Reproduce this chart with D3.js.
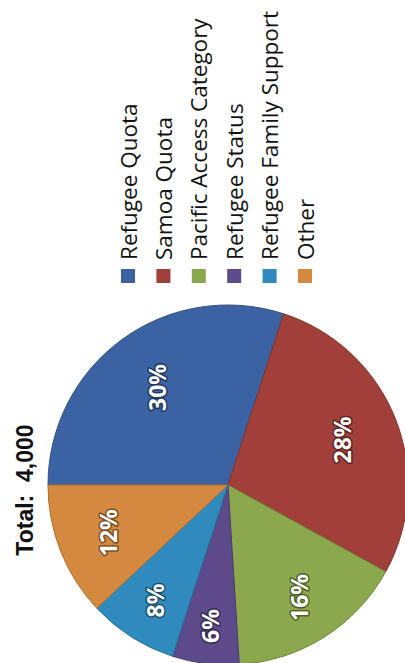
<!DOCTYPE html>
<html>
<head>
<meta charset="utf-8">
<script src="https://cdn.jsdelivr.net/npm/d3@7/dist/d3.min.js"></script>
<style>
  html, body { margin: 0; padding: 0; background: #fff; }
  svg { display: block; }
</style>
</head>
<body>
<svg id="chart" width="405" height="663"></svg>
<script>
// Residence approvals by category, share of a total of 4,000
const categories = ["Refugee Quota", "Samoa Quota", "Pacific Access Category", "Refugee Status", "Refugee Family Support", "Other"];
const shares = [30, 28, 16, 6, 8, 12];
const colors = ["#3b63a3", "#a1403a", "#8ba84c", "#5c4a8a", "#2f8bbd", "#d4893e"];
const titleText = "Total:  4,000";

const W = 405, H = 663;
const svg = d3.select("#chart");

// The chart is laid out landscape (H wide, W tall) and turned a quarter turn
const g = svg.append("g").attr("transform", `translate(0,${H}) rotate(-90)`);

const cx = 178, cy = 228, R = 180;
// radial position of each percentage label as a fraction of the radius
const labelFrac = [0.67, 0.68, 0.74, 0.79, 0.76, 0.72];

const pie = d3.pie().sort(null).value(d => d.v);
const arcs = pie(categories.map((c, i) => ({ c, v: shares[i], col: colors[i], i })));
const arc = d3.arc().innerRadius(0).outerRadius(R);

const pieG = g.append("g").attr("transform", `translate(${cx},${cy})`);
pieG.selectAll("path.slice")
  .data(arcs)
  .join("path")
  .attr("class", "slice")
  .attr("d", arc)
  .attr("fill", d => d.data.col)
  .attr("stroke", d => d3.color(d.data.col).darker(0.6))
  .attr("stroke-width", 1);

pieG.selectAll("text.pct")
  .data(arcs)
  .join("text")
  .attr("class", "pct")
  .attr("transform", d => {
    const r = R * labelFrac[d.data.i];
    const a = (d.startAngle + d.endAngle) / 2;
    return `translate(${Math.sin(a) * r},${-Math.cos(a) * r})`;
  })
  .attr("text-anchor", "middle")
  .attr("dominant-baseline", "central")
  .attr("font-family", "'Open Sans', Lato, sans-serif")
  .attr("font-weight", "bold")
  .attr("font-size", 23)
  .attr("fill", "#fff")
  .attr("stroke", d => d3.color(d.data.col).darker(1.6))
  .attr("stroke-width", 3)
  .attr("paint-order", "stroke")
  .attr("stroke-linejoin", "round")
  .text(d => d.data.v + "%");

// Title
g.append("text")
  .attr("x", 173)
  .attr("y", 33)
  .attr("text-anchor", "middle")
  .attr("font-family", "'Liberation Sans', Arial, sans-serif")
  .attr("font-weight", "bold")
  .attr("font-size", 23)
  .attr("fill", "#111")
  .attr("xml:space", "preserve")
  .style("white-space", "pre")
  .text(titleText);

// Legend
const legendY = d3.scalePoint().domain(categories).range([128, 305]);
const leg = g.append("g").selectAll("g")
  .data(categories)
  .join("g")
  .attr("transform", d => `translate(0,${legendY(d)})`);

leg.append("rect")
  .attr("x", 380)
  .attr("y", -7)
  .attr("width", 14)
  .attr("height", 14)
  .attr("fill", (d, i) => colors[i]);

leg.append("text")
  .attr("x", 403)
  .attr("y", 0)
  .attr("dominant-baseline", "central")
  .attr("font-family", "'Open Sans', Lato, sans-serif")
  .attr("font-size", 22.5)
  .attr("fill", "#111")
  .text(d => d);
</script>
</body>
</html>
